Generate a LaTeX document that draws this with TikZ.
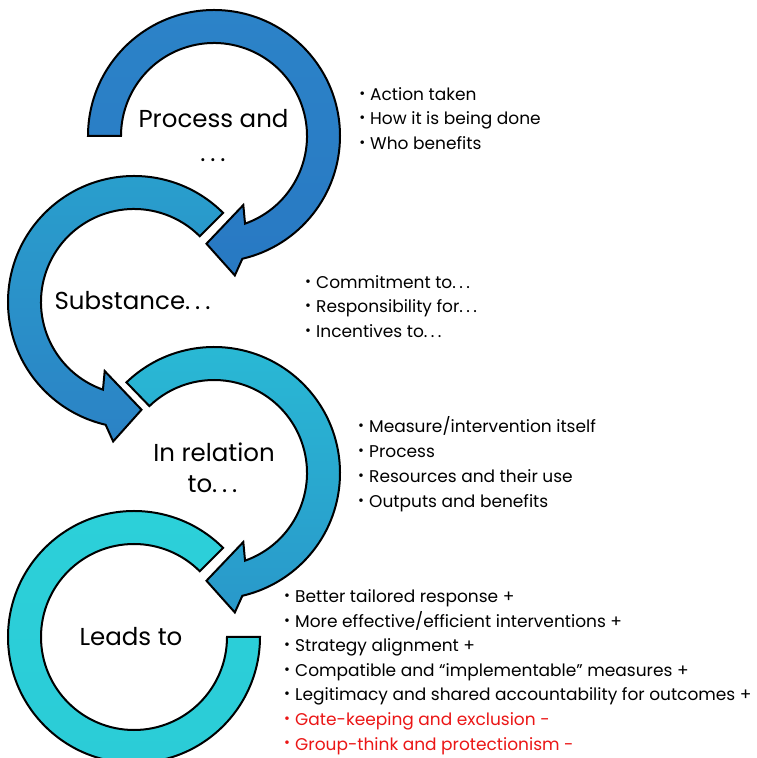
\documentclass[tikz,border=0pt]{standalone}
\usepackage{fontspec}
\setmainfont{Poppins}
\definecolor{aonetop}{RGB}{44,131,200}
\definecolor{aonebot}{RGB}{40,121,195}
\definecolor{atwotop}{RGB}{41,160,205}
\definecolor{atwobot}{RGB}{43,130,197}
\definecolor{athreetop}{RGB}{41,186,213}
\definecolor{athreebot}{RGB}{41,152,202}
\definecolor{afourtop}{RGB}{44,208,217}
\definecolor{afourbot}{RGB}{43,204,215}
\definecolor{negred}{RGB}{235,22,22}
\newcommand\bul{\makebox[0pt][r]{\raisebox{0.22ex}{\scalebox{0.85}{\textbullet}}\hspace{5pt}}}
\newcommand\dts{.\hspace{0.2em}.\hspace{0.2em}.}
\begin{document}
\begin{tikzpicture}[x=1pt,y=1pt,
  band/.style={draw=black, line width=2pt},
  lbl/.style={font=\fontsize{24.5}{29}\selectfont, inner sep=0pt, anchor=base},
  itm/.style={font=\fontsize{17}{20}\selectfont, inner sep=0pt, anchor=base west}]
\useasboundingbox (0,0) rectangle (756,758);
\clip (0,0) rectangle (756,758);
\fill[white] (0,0) rectangle (756,758);
% arrow 4 (ring)
\begin{scope}[shift={(134,121)}]
\draw[band, top color=afourtop, bottom color=afourbot]
  (45:126pt) arc[start angle=45,end angle=360,radius=126pt] -- (0:93pt)
  arc[start angle=360,end angle=45,radius=93pt] -- cycle;
\end{scope}
% arrow 3
\begin{scope}[shift={(214,285)}]
\draw[band, top color=athreetop, bottom color=athreebot]
  (134:126pt) arc[start angle=134,end angle=-77,radius=126pt]
  -- (-81.5:141pt) -- (-94:108pt) -- (-67:75pt) -- (-70.5:93pt)
  arc[start angle=-70.5,end angle=134,radius=93pt] -- cycle;
\end{scope}
% arrow 2
\begin{scope}[shift={(134,456)}]
\draw[band, top color=atwotop, bottom color=atwobot]
  (45:126pt) arc[start angle=45,end angle=257,radius=126pt]
  -- (261.5:141pt) -- (274:108pt) -- (247:75pt) -- (250.5:93pt)
  arc[start angle=250.5,end angle=45,radius=93pt] -- cycle;
\end{scope}
% arrow 1
\begin{scope}[shift={(214,622)}]
\draw[band, top color=aonetop, bottom color=aonebot]
  (180:126pt) arc[start angle=180,end angle=-77,radius=126pt]
  -- (-81.5:141pt) -- (-94:108pt) -- (-67:75pt) -- (-70.5:93pt)
  arc[start angle=-70.5,end angle=180,radius=93pt] -- cycle;
\end{scope}
% main labels
\node[lbl] (proc) at (213.5,630) {Process and};
\node[lbl] (procdots) at (213,596) {\dts};
\node[lbl] (subst) at (132.5,448) {Substance\dts};
\node[lbl] (inrel) at (214,296) {In relation};
\node[lbl] (inrelto) at (212.5,265) {to\dts};
\node[lbl] (leads) at (131,112) {Leads to};
% group 1
\node[itm] (ga1) at (370,657) {\bul Action taken};
\node[itm] (ga2) at (370,633) {\bul How it is being done};
\node[itm] (ga3) at (370,608) {\bul Who benefits};
% group 2
\node[itm] (gb1) at (316,469) {\bul Commitment to\dts};
\node[itm] (gb2) at (316,445) {\bul Responsibility for\dts};
\node[itm] (gb3) at (316,420) {\bul Incentives to\dts};
% group 3
\node[itm] (gc1) at (369,325) {\bul Measure/intervention itself};
\node[itm] (gc2) at (369,300) {\bul Process};
\node[itm] (gc3) at (369,275) {\bul Resources and their use};
\node[itm] (gc4) at (369,250) {\bul Outputs and benefits};
% group 4
\node[itm] (gd1) at (295,155) {\bul Better tailored response +};
\node[itm] (gd2) at (295,130.5) {\bul More effective/efficient interventions +};
\node[itm] (gd3) at (295,106) {\bul Strategy alignment +};
\node[itm] (gd4) at (295,81.5) {\bul Compatible and \textquotedblleft implementable\textquotedblright{} measures +};
\node[itm] (gd5) at (295,57) {\bul Legitimacy and shared accountability for outcomes +};
\node[itm, text=negred] (gd6) at (295,32.5) {\bul Gate-keeping and exclusion -};
\node[itm, text=negred] (gd7) at (295,8) {\bul Group-think and protectionism -};
\end{tikzpicture}
\end{document}
